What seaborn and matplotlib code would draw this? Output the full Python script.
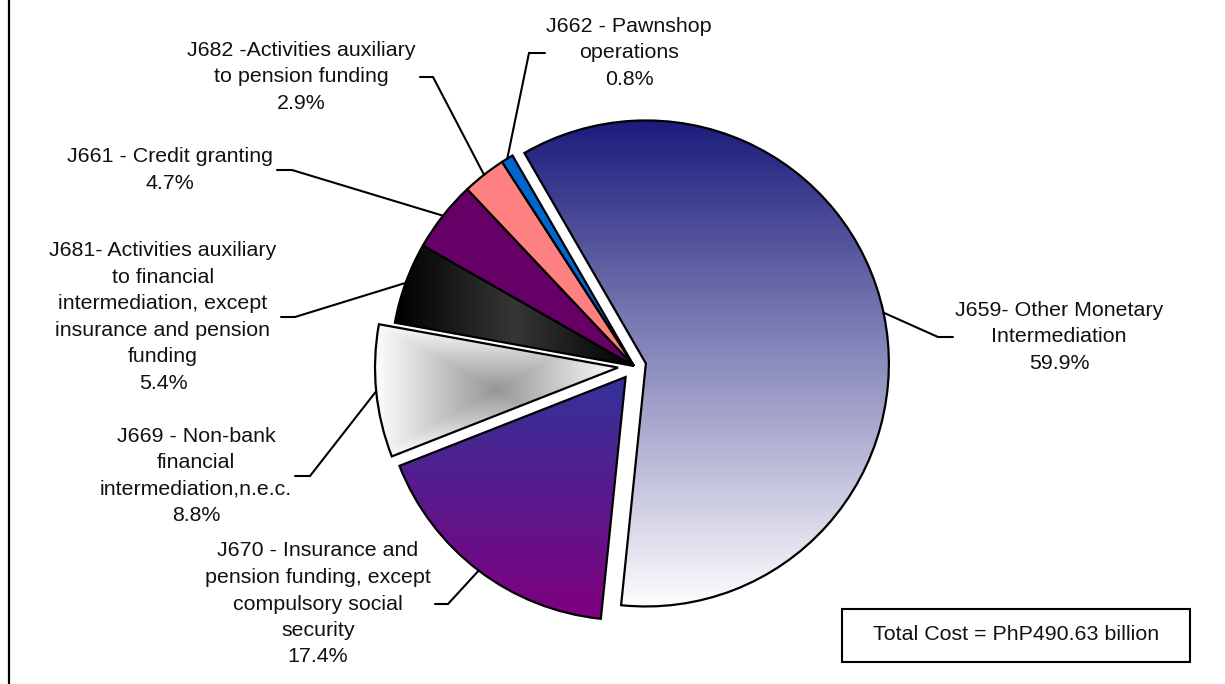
import numpy as np
import matplotlib
matplotlib.use("Agg")
import matplotlib.pyplot as plt
import seaborn as sns
from matplotlib.colors import to_rgb
from matplotlib.lines import Line2D
from matplotlib.patches import Rectangle

# ---------------- data ----------------
categories = [
    "J659- Other Monetary\nIntermediation",
    "J670 - Insurance and\npension funding, except\ncompulsory social\nsecurity",
    "J669 - Non-bank\nfinancial\nintermediation,n.e.c.",
    "J681- Activities auxiliary\nto financial\nintermediation, except\ninsurance and pension\nfunding",
    "J661 - Credit granting",
    "J682 -Activities auxiliary\nto pension funding",
    "J662 - Pawnshop\noperations",
]
shares = [59.9, 17.4, 8.8, 5.4, 4.7, 2.9, 0.8]
total_note = "Total Cost = PhP490.63 billion"

# ---------------- style / layout ----------------
sns.set_theme(style="white")
plt.rcParams["font.family"] = ["Liberation Sans", "DejaVu Sans"]

W, H = 1225, 684
CX, CY, R = 634, 366, 243          # pie centre and radius in pixels


def px(x, y):
    return ((x - CX) / R, (CY - y) / R)


explode = [0.05, 0.057, 0.066, 0, 0, 0, 0]
fills = [
    ("v", "#1a1a7c", "#ffffff"),
    ("v", "#333399", "#800080"),
    ("rect", "#ffffff", "#969696"),
    ("h", "#000000", "#363636"),
    ("solid", "#660066", None),
    ("solid", "#ff8080", None),
    ("solid", "#0066cc", None),
]
# label block centre, leader elbow, leader end (pixels)
label_pos = [(1059, 337), (318, 604), (196, 476), (163, 317), (170, 170), (301, 77), (629, 53)]
leader_elbow = [(938, 337), (448, 604), (310, 476), (295, 317), (292, 170), (433, 77), (529, 53)]
leader_end = [(953, 337), (435, 604), (295, 476), (281, 317), (277, 170), (420, 77), (545, 53)]

fig = plt.figure(figsize=(W / 100, H / 100), dpi=100)
fig.patch.set_facecolor("white")
ax = fig.add_axes([0, 0, 1, 1])

wedges, _ = ax.pie(
    shares, startangle=120, counterclock=False, explode=explode, radius=1,
    wedgeprops=dict(edgecolor="black", linewidth=1.6),
)


def grad_fill(w, kind, c1, c2):
    if kind == "solid":
        w.set_facecolor(c1)
        return
    verts = w.get_path().vertices
    x0, y0 = verts.min(0)
    x1, y1 = verts.max(0)
    n = 300
    yy, xx = np.mgrid[0:1:n * 1j, 0:1:n * 1j]
    if kind == "v":
        t = 1 - yy
    elif kind == "rect":
        t = 1 - 2 * np.maximum(np.abs(xx - 0.5), np.abs(yy - 0.5))
    else:
        t = 1 - 2 * np.abs(xx - 0.5)
    a = np.array(to_rgb(c1))
    b = np.array(to_rgb(c2))
    img = a * (1 - t)[..., None] + b * t[..., None]
    im = ax.imshow(img, extent=(x0, x1, y0, y1), origin="lower", aspect="auto",
                   interpolation="bilinear", zorder=w.get_zorder() - 0.01)
    im.set_clip_path(w)
    w.set_facecolor("none")


for w, (kind, c1, c2) in zip(wedges, fills):
    grad_fill(w, kind, c1, c2)

for w, name, val, lp, el, en in zip(wedges, categories, shares, label_pos, leader_elbow, leader_end):
    th = np.deg2rad((w.theta1 + w.theta2) / 2)
    ax0 = w.center[0] + w.r * np.cos(th)
    ay0 = w.center[1] + w.r * np.sin(th)
    ex, ey = px(*el)
    nx, ny = px(*en)
    ax.plot([ax0, ex, nx], [ay0, ey, ny], color="black", lw=1.5, zorder=5,
            solid_joinstyle="miter")
    tx, ty = px(*lp)
    ax.text(tx, ty, f"{name}\n{val:.1f}%", ha="center", va="center",
            multialignment="center", fontsize=15.4, linespacing=1.5,
            color="#111111", zorder=6)

# total cost box
bx, by = px(842, 662)
ax.add_patch(Rectangle((bx, by), (1190 - 842) / R, (662 - 609) / R,
                       facecolor="white", edgecolor="black", lw=1.5, zorder=6))
tx, ty = px(1016, 635)
ax.text(tx, ty, total_note, ha="center", va="center", fontsize=15.4,
        color="#111111", zorder=7)

ax.set_xlim(-CX / R, (W - CX) / R)
ax.set_ylim((CY - H) / R, CY / R)
ax.set_aspect("auto")
ax.axis("off")

fig.add_artist(Line2D([8.5 / W, 8.5 / W], [0, 1], transform=fig.transFigure,
                      color="black", lw=1.6))

fig.savefig("out.png", dpi=100, facecolor="white")
